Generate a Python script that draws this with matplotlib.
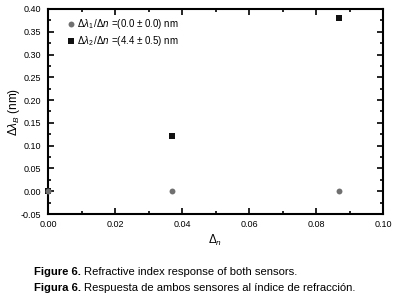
import matplotlib
matplotlib.use("Agg")
import matplotlib.pyplot as plt
from matplotlib.ticker import MultipleLocator

plt.rcParams['font.family'] = ['Liberation Sans', 'DejaVu Sans']
plt.rcParams['mathtext.fontset'] = 'custom'
plt.rcParams['mathtext.rm'] = 'Liberation Sans'
plt.rcParams['mathtext.it'] = 'Liberation Sans:italic'

# Data
dn1 = [0.0, 0.037, 0.087]
dl1 = [0.0, 0.0, 0.0]
dn2 = [0.0, 0.037, 0.087]
dl2 = [0.0, 0.122, 0.38]
label1 = r'$\Delta\lambda_1\,/\Delta n$ =(0.0 ± 0.0) nm'
label2 = r'$\Delta\lambda_2\,/\Delta n$ =(4.4 ± 0.5) nm'
xticks = [0.00, 0.02, 0.04, 0.06, 0.08, 0.10]
yticks = [-0.05, 0.00, 0.05, 0.10, 0.15, 0.20, 0.25, 0.30, 0.35, 0.40]

W, H = 397, 299
fig = plt.figure(figsize=(W/100, H/100), dpi=100)
ax = fig.add_axes([48/W, 1-214/H, (383-48)/W, (214-9)/H])

ax.scatter(dn2, dl2, marker='s', s=22, color='#111111', zorder=3, label=label2,
           linewidths=0, clip_on=False)
ax.scatter(dn1, dl1, marker='o', s=18, color='#707070', zorder=4, label=label1,
           linewidths=0, clip_on=False)

ax.set_xlim(0, 0.10)
ax.set_ylim(-0.05, 0.40)
ax.set_xticks(xticks)
ax.set_yticks(yticks)
ax.set_xticklabels([f'{v:.2f}' for v in xticks])
ax.set_yticklabels([f'{v:.2f}' for v in yticks])
ax.xaxis.set_minor_locator(MultipleLocator(0.01))
ax.yaxis.set_minor_locator(MultipleLocator(0.025))
ax.tick_params(which='both', direction='in', top=True, right=True, labelsize=6.5, width=1.2)
ax.tick_params(axis='y', pad=5)
ax.tick_params(axis='x', pad=4)
ax.tick_params(which='major', length=4)
ax.tick_params(which='minor', length=2.5)
for s in ax.spines.values():
    s.set_linewidth(1.5)

ax.set_xlabel(r'$\Delta_n$', fontsize=8.5, labelpad=3)
ax.set_ylabel(r'$\Delta\lambda_B$ (nm)', fontsize=8.5, va='center')
ax.yaxis.set_label_coords((14 - 48) / 335, 0.5)

h, l = ax.get_legend_handles_labels()
ax.legend(h[::-1], l[::-1], loc='upper left', bbox_to_anchor=(0.04, 0.98), frameon=False,
          fontsize=7, handletextpad=0.0, borderaxespad=0, labelspacing=0.3, handlelength=1.2)

fs = 8.1
for yy, bold, rest in [(272, 'Figure 6.', 'Refractive index response of both sensors.'),
                       (288, 'Figura 6.', 'Respuesta de ambos sensores al índice de refracción.')]:
    t = fig.text(34/W, 1-yy/H, bold, fontsize=fs, fontweight='bold', va='center')
    ax.annotate(rest, xy=(1, 0), xycoords=t, xytext=(2.5, 0), textcoords='offset points',
                fontsize=fs, va='bottom', ha='left', annotation_clip=False)

fig.savefig('out.png', dpi=100)
